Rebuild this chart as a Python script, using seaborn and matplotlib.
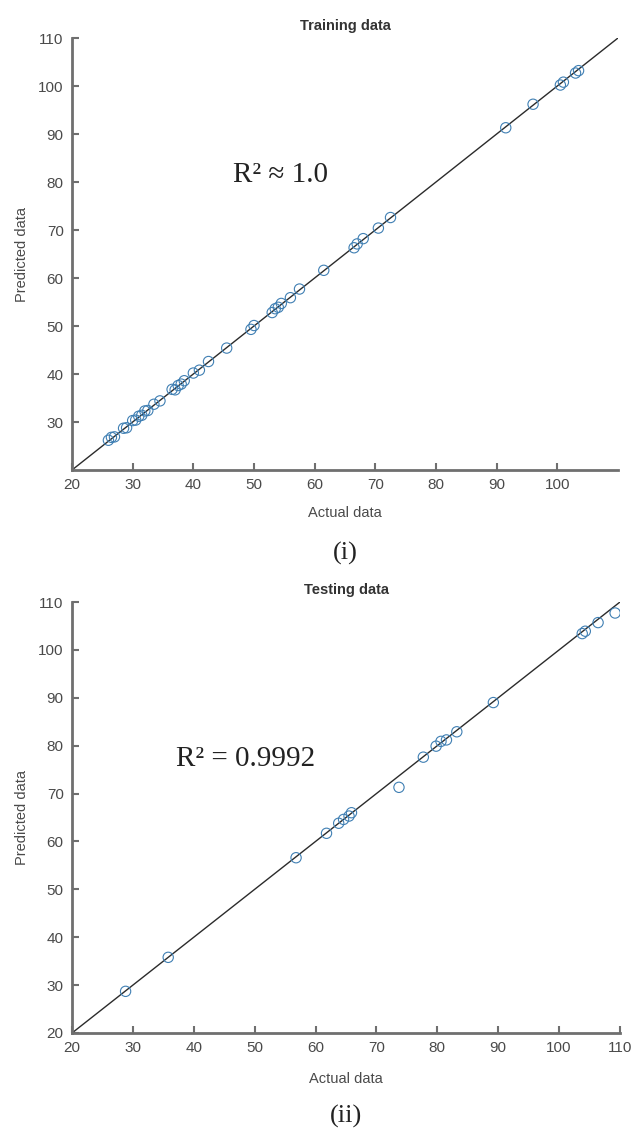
import matplotlib
matplotlib.use("Agg")
import matplotlib.pyplot as plt
import seaborn as sns
import pandas as pd

# training set: actual vs predicted
train_actual = [26.0, 26.5, 27.0, 28.5, 29.0, 30.0, 30.5, 31.0, 31.5, 32.0, 32.5,
                33.5, 34.5, 36.5, 37.0, 37.5, 38.0, 38.5, 40.0, 41.0, 42.5, 45.5,
                49.5, 50.0, 53.0, 53.5, 54.0, 54.5, 56.0, 57.5, 61.5, 66.5, 67.0,
                68.0, 70.5, 72.5, 91.5, 96.0, 100.5, 101.0, 103.0, 103.5]
train_pred = [26.2, 26.8, 26.9, 28.7, 28.8, 30.3, 30.4, 31.2, 31.4, 32.3, 32.4,
              33.7, 34.4, 36.8, 36.7, 37.6, 37.9, 38.6, 40.2, 40.8, 42.6, 45.4,
              49.3, 50.1, 52.8, 53.6, 53.9, 54.7, 55.9, 57.7, 61.6, 66.3, 67.1,
              68.2, 70.4, 72.6, 91.3, 96.2, 100.2, 100.8, 102.7, 103.2]

# testing set
test_actual = [28.8, 35.8, 56.8, 61.8, 63.8, 64.6, 65.5, 65.9, 73.7, 77.7, 79.8,
               80.6, 81.5, 83.2, 89.2, 103.8, 104.3, 106.4, 109.2]
test_pred = [28.7, 35.8, 56.6, 61.7, 63.8, 64.6, 65.3, 66.0, 71.3, 77.6, 79.9,
             80.9, 81.2, 82.9, 89.0, 103.4, 103.9, 105.7, 107.7]

sns.set_theme(style="white")
plt.rcParams["font.family"] = ["Liberation Sans", "DejaVu Sans"]

W, H = 635, 1132
fig = plt.figure(figsize=(W / 100, H / 100), dpi=100)

spine_col = "#6f6f6f"
text_col = "#4a4a4a"
marker_col = "#3f7fb3"


def style_axes(ax, xticks, yticks):
    ax.set_xlim(20, 110)
    ax.set_ylim(20, 110)
    ax.set_xticks(xticks)
    ax.set_yticks(yticks)
    for s in ["top", "right"]:
        ax.spines[s].set_visible(False)
    for s in ["left", "bottom"]:
        ax.spines[s].set_color(spine_col)
        ax.spines[s].set_linewidth(2)
    ax.tick_params(direction="in", length=5, width=1.5, color=spine_col,
                   labelsize=11, labelcolor=text_col, pad=6,
                   left=True, bottom=True)
    ax.set_xlabel("")
    ax.set_ylabel("")


panels = [
    dict(box=(72, 38, 618, 470), x=train_actual, y=train_pred, title="Training data",
         xt=range(20, 101, 10), yt=range(30, 111, 10), r2="R² ≈ 1.0", r2xy=(46.5, 81.5),
         xl=513, lab="(i)", laby=553),
    dict(box=(72, 602, 620, 1033), x=test_actual, y=test_pred, title="Testing data",
         xt=range(20, 111, 10), yt=range(20, 111, 10), r2="R² = 0.9992", r2xy=(37.0, 77.3),
         xl=1079, lab="(ii)", laby=1116),
]

for p in panels:
    x0, y0, x1, y1 = p["box"]
    ax = fig.add_axes([x0 / W, 1 - y1 / H, (x1 - x0) / W, (y1 - y0) / H])
    df = pd.DataFrame({"Actual": p["x"], "Predicted": p["y"]})
    ax.axline((20, 20), slope=1, color="#2b2b2b", linewidth=1.0, zorder=1)
    sns.scatterplot(data=df, x="Actual", y="Predicted", ax=ax, s=55,
                    facecolor="none", edgecolor=marker_col, linewidth=0.8, zorder=2)
    style_axes(ax, list(p["xt"]), list(p["yt"]))
    ax.set_title(p["title"], fontsize=10.5, fontweight="bold", color="#333333", pad=6)
    ax.text(p["r2xy"][0], p["r2xy"][1], p["r2"], fontsize=21, va="center", ha="left",
            family=["Liberation Serif", "DejaVu Serif"], color="#222222")
    cx = (x0 + x1) / 2 / W
    fig.text(cx, 1 - p["xl"] / H, "Actual data", ha="center", va="center",
             fontsize=10.5, color=text_col)
    fig.text(cx, 1 - p["laby"] / H, p["lab"], ha="center", va="center",
             fontsize=19, color="#222222", family=["Liberation Serif", "DejaVu Serif"])
    fig.text(22 / W, 1 - (y0 + y1) / 2 / H, "Predicted data", ha="center", va="center",
             rotation=90, fontsize=10.5, color=text_col)

fig.savefig("out.png", dpi=100)
